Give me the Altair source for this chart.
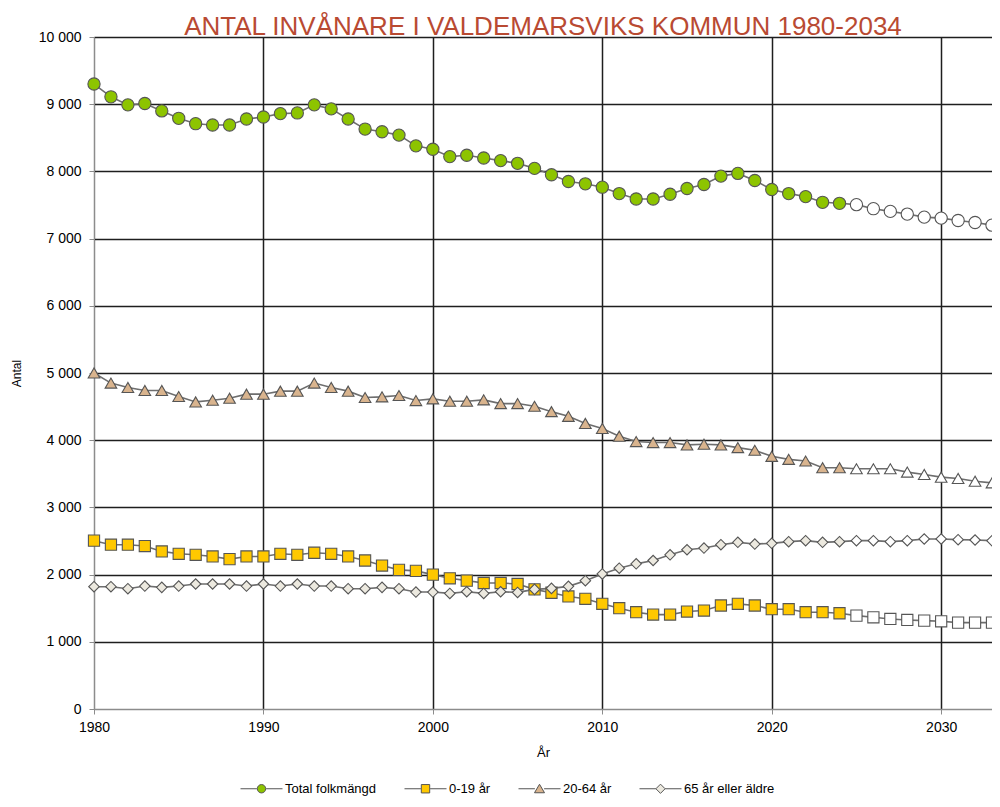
import altair as alt
import pandas as pd

years = list(range(1980, 2034))
last_actual_year = 2024

total = [9300, 9110, 8990, 9010, 8900, 8790, 8710, 8690, 8690, 8780,
         8810, 8860, 8870, 8990, 8930, 8780, 8630, 8590, 8540, 8380,
         8330, 8220, 8240, 8200, 8160, 8120, 8045, 7950, 7850, 7815,
         7765, 7670, 7590, 7590, 7660, 7745, 7805, 7930, 7970, 7865,
         7730, 7670, 7625, 7540, 7525, 7505, 7445, 7405, 7365, 7320,
         7305, 7270, 7240, 7200]
age_0_19 = [2505, 2445, 2445, 2425, 2345, 2310, 2295, 2270, 2230, 2270,
            2270, 2310, 2295, 2325, 2310, 2270, 2210, 2135, 2070, 2055,
            2000, 1945, 1910, 1875, 1875, 1860, 1780, 1730, 1675, 1640,
            1565, 1500, 1440, 1405, 1405, 1450, 1465, 1540, 1565, 1540,
            1485, 1485, 1440, 1440, 1425, 1390, 1365, 1340, 1325, 1315,
            1305, 1285, 1285, 1285]
age_20_64 = [5000, 4850, 4785, 4740, 4740, 4650, 4570, 4595, 4625, 4685,
             4685, 4730, 4730, 4850, 4785, 4730, 4635, 4645, 4665, 4590,
             4615, 4580, 4580, 4600, 4545, 4545, 4505, 4425, 4355, 4250,
             4175, 4060, 3980, 3965, 3965, 3930, 3940, 3930, 3890, 3850,
             3760, 3715, 3690, 3590, 3590, 3575, 3575, 3575, 3525, 3490,
             3450, 3430, 3390, 3365]
age_65 = [1820, 1820, 1790, 1830, 1810, 1830, 1860, 1860, 1860, 1830,
          1860, 1830, 1860, 1830, 1830, 1790, 1790, 1810, 1790, 1740,
          1740, 1720, 1745, 1720, 1745, 1735, 1780, 1795, 1825, 1910,
          2010, 2095, 2160, 2210, 2295, 2370, 2395, 2445, 2480, 2455,
          2465, 2490, 2505, 2480, 2490, 2505, 2505, 2490, 2505, 2530,
          2530, 2520, 2515, 2505]

series_names = ["Total folkmängd", "0-19 år", "20-64 år", "65 år eller äldre"]
series_values = [total, age_0_19, age_20_64, age_65]
fill_colors = ["#8DC400", "#FFC800", "#D9B48E", "#ECE9DF"]
plot_shapes = ["circle", "square", "triangle-up", "diamond"]
marker_sizes = [150, 125, 135, 110]

seg = "M-2.1,0H-0.46M0.46,0H2.1"
legend_shapes = [
    seg + "M-0.42,0A0.42,0.42,0,1,1,0.42,0A0.42,0.42,0,1,1,-0.42,0Z",
    seg + "M-0.42,-0.42H0.42V0.42H-0.42Z",
    seg + "M0,-0.45L0.5,0.4H-0.5Z",
    seg + "M0,-0.46L0.46,0L0,0.46L-0.46,0Z",
]

rows = []
for name, vals, sz in zip(series_names, series_values, marker_sizes):
    for yr, v in zip(years, vals):
        rows.append({"series": name, "year": yr, "value": v, "sz": sz,
                     "actual": yr <= last_actual_year})
df = pd.DataFrame(rows)

FONT = "Liberation Sans"

x_enc = alt.X(
    "year:Q",
    scale=alt.Scale(domain=[1980, 2033], nice=False, zero=False),
    axis=alt.Axis(
        values=list(range(1980, 2031, 10)), format="d", title="År",
        grid=True, labelFlush=False,
        gridColor={"condition": {"test": "datum.value === 1980", "value": "#8c8c8c"}, "value": "#1e1e1e"},
        gridWidth=1.5, domainColor="#8c8c8c", domainWidth=1,
        tickColor="#8c8c8c", tickSize=5, labelPadding=6,
        labelFont=FONT, labelFontSize=14, labelColor="#000000",
        titleFont=FONT, titleFontSize=13, titleFontWeight="normal",
        titleColor="#000000", titlePadding=12,
    ),
)
y_enc = alt.Y(
    "value:Q",
    scale=alt.Scale(domain=[0, 10000], nice=False),
    axis=alt.Axis(
        values=list(range(0, 10001, 1000)),
        labelExpr="replace(format(datum.value, ','), ',', ' ')",
        title="Antal", grid=True, labelFlush=False,
        gridColor={"condition": {"test": "datum.value === 0", "value": "#8c8c8c"}, "value": "#1e1e1e"},
        gridWidth=1.5, domainColor="#8c8c8c", domainWidth=1,
        tickColor="#8c8c8c", tickSize=5, labelPadding=8,
        labelFont=FONT, labelFontSize=14, labelColor="#000000",
        titleFont=FONT, titleFontSize=12, titleFontWeight="normal",
        titleColor="#000000", titlePadding=15,
    ),
)

base = alt.Chart(df)

lines = base.mark_line(color="#6e6e6e", strokeWidth=1.6).encode(
    x=x_enc, y=y_enc, detail="series:N"
)

shape_scale = alt.Scale(domain=series_names, range=plot_shapes)
fill_scale = alt.Scale(domain=series_names, range=fill_colors)

pts_actual = base.transform_filter("datum.actual").mark_point(
    filled=True, stroke="#555555", strokeWidth=1.1, opacity=1
).encode(
    x=x_enc, y=y_enc,
    shape=alt.Shape("series:N", scale=shape_scale, legend=None),
    fill=alt.Fill("series:N", scale=fill_scale, legend=None),
    size=alt.Size("sz:Q", scale=None),
)

pts_proj = base.transform_filter("!datum.actual").mark_point(
    filled=True, fill="#ffffff", stroke="#555555", strokeWidth=1.1, opacity=1
).encode(
    x=x_enc, y=y_enc,
    shape=alt.Shape("series:N", scale=shape_scale, legend=None),
    size=alt.Size("sz:Q", scale=None),
)

leg = alt.Legend(
    title=None, orient="none", legendX=157, legendY=741, direction="horizontal",
    labelFont=FONT, labelFontSize=13, labelColor="#000000",
    symbolSize=400, symbolStrokeWidth=1, symbolOpacity=1,
    labelOffset=13, columnPadding=25, padding=0,
)
legend_layer = base.transform_filter("datum.year < 0").mark_point(
    filled=True, strokeWidth=1, opacity=1
).encode(
    x=x_enc, y=y_enc,
    shape=alt.Shape("series:N", scale=alt.Scale(domain=series_names, range=legend_shapes), legend=leg),
    fill=alt.Fill("series:N", scale=alt.Scale(domain=series_names, range=fill_colors), legend=leg),
    stroke=alt.Stroke("series:N", scale=alt.Scale(domain=series_names, range=["#555555"] * 4), legend=leg),
)

chart = alt.layer(lines, pts_actual, pts_proj, legend_layer).resolve_scale(
    shape="independent", fill="independent", stroke="independent"
).properties(
    width=898, height=672,
    autosize=alt.AutoSizeParams(type="none"),
    padding={"left": 86, "top": 29, "right": 0, "bottom": 88},
    title=alt.TitleParams(
        "ANTAL INVÅNARE I VALDEMARSVIKS KOMMUN 1980-2034",
        font=FONT, fontSize=26, fontWeight="normal",
        color="#B94A32", anchor="middle", offset=-10,
    ),
).configure_view(stroke=None)

chart.save("out.html", embed_options={"renderer": "svg", "actions": False})
